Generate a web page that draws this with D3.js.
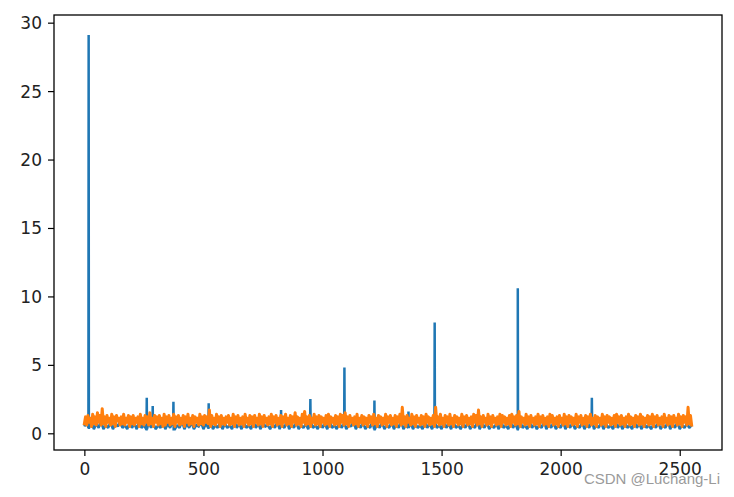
<!DOCTYPE html>
<html>
<head>
<meta charset="utf-8">
<script src="https://cdn.jsdelivr.net/npm/d3@7/dist/d3.min.js"></script>
<style>
  html, body { margin: 0; padding: 0; background: #fff; }
  svg { display: block; }
</style>
</head>
<body>
<svg id="chart" width="734" height="497"></svg>
<script>
// ---------------- data ----------------
const xTicks = [0, 500, 1000, 1500, 2000, 2500];
const yTicks = [0, 5, 10, 15, 20, 25, 30];

// orange series, one value every 5 samples (index 0..2550)
const orangeStep = 5;
const orangeValues = [
0.7,1.2,0.6,1.3,0.8,1.1,0.5,1.4,0.7,1.2,0.6,1.5,0.8,1.3,0.6,1.8,0.7,1.2,0.5,1.3,
0.8,1.1,0.6,1.4,0.7,1.2,0.5,1.3,0.9,1.1,0.6,1.2,0.7,1.4,0.6,1.1,0.8,1.3,0.5,1.2,
0.7,1.3,0.6,1.1,0.8,1.2,0.5,1.4,0.7,1.1,0.6,1.3,0.8,1.2,0.6,1.5,0.7,1.1,0.5,1.3,
0.8,1.2,0.6,1.3,0.7,1.1,0.5,1.4,0.6,1.2,0.8,1.3,0.6,1.1,0.7,1.4,0.5,1.2,0.8,1.3,
0.6,1.1,0.7,1.3,0.5,1.2,0.8,1.4,0.6,1.1,0.7,1.3,0.5,1.2,0.8,1.1,0.6,1.4,0.7,1.2,
0.6,1.3,0.8,1.2,0.7,1.7,0.5,1.3,0.7,1.1,0.6,1.4,0.8,1.2,0.5,1.3,0.7,1.1,0.6,1.2,
0.8,1.3,0.6,1.1,0.7,1.4,0.5,1.2,0.8,1.3,0.6,1.1,0.7,1.2,0.5,1.4,0.8,1.1,0.6,1.3,
0.7,1.2,0.5,1.3,0.8,1.1,0.6,1.4,0.7,1.2,0.5,1.3,0.8,1.1,0.6,1.2,0.7,1.4,0.5,1.2,
0.8,1.3,0.6,1.1,0.7,1.3,0.5,1.2,0.8,1.4,0.6,1.1,0.7,1.3,0.5,1.2,0.8,1.5,0.6,1.2,
0.7,1.1,0.5,1.4,0.8,1.6,0.6,1.2,0.7,1.3,0.5,1.1,0.8,1.4,0.6,1.2,0.7,1.3,0.5,1.2,
0.8,1.1,0.6,1.3,0.7,1.4,0.5,1.2,0.8,1.1,0.6,1.3,0.7,1.2,0.5,1.4,0.8,1.3,0.6,1.5,
0.7,1.2,0.5,1.3,0.8,1.1,0.6,1.2,0.7,1.4,0.5,1.1,0.8,1.3,0.6,1.2,0.7,1.1,0.5,1.3,
0.8,1.2,0.6,1.4,0.7,1.1,0.5,1.3,0.8,1.2,0.6,1.1,0.7,1.4,0.5,1.2,0.8,1.3,0.6,1.1,
0.7,1.3,0.5,1.2,0.8,1.4,0.6,1.9,0.7,1.2,0.5,1.3,0.8,1.1,0.6,1.4,0.7,1.2,0.5,1.3,
0.8,1.1,0.6,1.3,0.7,1.2,0.5,1.4,0.8,1.2,0.6,1.1,0.7,1.3,0.5,1.9,0.8,1.2,0.6,1.4,
0.7,1.1,0.5,1.3,0.8,1.2,0.6,1.4,0.7,1.1,0.5,1.3,0.8,1.2,0.6,1.1,0.7,1.4,0.5,1.2,
0.8,1.3,0.6,1.1,0.7,1.2,0.5,1.4,0.8,1.3,0.6,1.7,0.7,1.2,0.5,1.3,0.8,1.1,0.6,1.4,
0.7,1.2,0.5,1.3,0.8,1.1,0.6,1.2,0.7,1.4,0.5,1.3,0.8,1.2,0.6,1.1,0.7,1.3,0.5,1.4,
0.8,1.2,0.6,1.3,0.7,1.6,0.5,1.2,0.8,1.1,0.6,1.4,0.7,1.2,0.5,1.3,0.8,1.1,0.6,1.2,
0.7,1.4,0.5,1.2,0.8,1.3,0.6,1.1,0.7,1.2,0.5,1.4,0.8,1.3,0.6,1.1,0.7,1.2,0.5,1.3,
0.8,1.1,0.6,1.4,0.7,1.2,0.5,1.3,0.8,1.2,0.6,1.1,0.7,1.4,0.5,1.2,0.8,1.3,0.6,1.1,
0.7,1.3,0.5,1.2,0.8,1.4,0.6,1.1,0.7,1.3,0.5,1.2,0.8,1.1,0.6,1.4,0.7,1.2,0.5,1.3,
0.8,1.2,0.6,1.1,0.7,1.3,0.5,1.4,0.8,1.2,0.6,1.3,0.7,1.1,0.5,1.2,0.8,1.4,0.6,1.2,
0.7,1.1,0.5,1.3,0.8,1.2,0.6,1.4,0.7,1.2,0.5,1.1,0.8,1.3,0.6,1.2,0.7,1.4,0.5,1.2,
0.8,1.3,0.6,1.1,0.7,1.2,0.5,1.4,0.8,1.1,0.6,1.3,0.7,1.2,0.5,1.3,0.8,1.1,0.6,1.4,
0.7,1.2,0.5,1.3,0.8,1.2,0.6,1.9,0.7,1.3,0.6
];

// blue series baseline, one value every 10 samples (index 0..2550)
const blueStep = 10;
const blueBase = [
0.5,0.9,0.4,0.8,0.3,0.7,0.4,0.9,0.3,0.6,0.4,0.8,0.3,0.7,0.5,0.9,
0.4,0.6,0.3,0.8,0.4,0.7,0.3,0.9,0.4,0.6,0.3,0.8,0.4,0.7,0.3,0.6,
0.4,0.9,0.3,0.7,0.4,0.8,0.3,0.6,0.4,0.9,0.3,0.7,0.4,0.8,0.3,0.6,
0.5,0.8,0.3,0.7,0.4,0.9,0.3,0.6,0.4,0.8,0.3,0.7,0.4,0.6,0.3,0.9,
0.4,0.7,0.3,0.8,0.4,0.6,0.3,0.9,0.4,0.7,0.3,0.8,0.5,0.6,0.3,0.7,
0.4,0.8,0.3,0.6,0.4,0.9,0.3,0.7,0.4,0.8,0.3,0.6,0.4,0.7,0.3,0.9,
0.4,0.6,0.3,0.8,0.4,0.7,0.3,0.9,0.4,0.6,0.3,0.8,0.4,0.7,0.3,0.6,
0.5,0.9,0.3,0.7,0.4,0.8,0.3,0.6,0.4,0.9,0.3,0.7,0.4,0.8,0.3,0.6,
0.4,0.8,0.3,0.7,0.4,0.9,0.3,0.6,0.4,0.8,0.3,0.7,0.4,0.6,0.3,0.9,
0.4,0.7,0.3,0.8,0.4,0.6,0.3,0.9,0.4,0.7,0.3,0.8,0.4,0.6,0.3,0.7,
0.4,0.8,0.3,0.6,0.4,0.9,0.3,0.7,0.4,0.8,0.3,0.6,0.4,0.7,0.3,0.9,
0.4,0.6,0.3,0.8,0.4,0.7,0.3,0.9,0.4,0.6,0.3,0.8,0.4,0.7,0.3,0.6,
0.4,0.9,0.3,0.7,0.4,0.8,0.3,0.6,0.4,0.9,0.3,0.7,0.4,0.8,0.3,0.6,
0.4,0.8,0.3,0.7,0.4,0.9,0.3,0.6,0.4,0.8,0.3,0.7,0.4,0.6,0.3,0.9,
0.4,0.7,0.3,0.8,0.4,0.6,0.3,0.9,0.4,0.7,0.3,0.8,0.4,0.6,0.3,0.7,
0.4,0.8,0.3,0.6,0.4,0.9,0.3,0.7,0.4,0.8,0.3,0.6,0.4,0.7,0.4,0.6
];

// blue spikes: sample index and value
const spikeIndex = [18, 262, 287, 374, 522, 826, 949, 1092, 1218, 1361, 1471, 1820, 2131];
const spikeValue = [29.1, 2.6, 2.0, 2.3, 2.2, 1.7, 2.5, 4.8, 2.4, 1.6, 8.1, 10.6, 2.6];

// ---------------- build series ----------------
const orange = orangeValues.map((v, i) => ({x: i * orangeStep, y: v}));
const baseAt = ix => blueBase[Math.min(blueBase.length - 1, Math.round(ix / blueStep))];
const spikePts = [];
spikeIndex.forEach((ix, i) => {
  spikePts.push({x: ix - 1, y: baseAt(ix - 1)});
  spikePts.push({x: ix, y: spikeValue[i]});
  spikePts.push({x: ix + 1, y: baseAt(ix + 1)});
});
const blue = blueBase.map((v, i) => ({x: i * blueStep, y: v}))
  .concat(spikePts)
  .sort((a, b) => a.x - b.x);

// ---------------- layout ----------------
const svg = d3.select("#chart");
const L = 54, T = 15, R = 722, B = 450;

const x = d3.scaleLinear().domain([-127.5, 2677.5]).range([L, R]);
const y = d3.scaleLinear().domain([-1.22, 30.56]).range([B, T]);

const line = d3.line().x(d => x(d.x)).y(d => y(d.y));

const plot = svg.append("g");
plot.append("clipPath").attr("id", "clip")
  .append("rect").attr("x", L).attr("y", T).attr("width", R - L).attr("height", B - T);

const lines = plot.append("g").attr("clip-path", "url(#clip)");
lines.append("path").datum(blue)
  .attr("d", line).attr("fill", "none")
  .attr("stroke", "#1f77b4").attr("stroke-width", 2.5)
  .attr("stroke-linejoin", "miter").attr("stroke-miterlimit", 1.5).attr("stroke-linecap", "butt");
lines.append("path").datum(orange)
  .attr("d", line).attr("fill", "none")
  .attr("stroke", "#ff7f0e").attr("stroke-width", 3)
  .attr("stroke-linejoin", "round").attr("stroke-linecap", "square");

// axes
const font = "'DejaVu Sans', sans-serif";
const xAxis = d3.axisBottom(x).tickValues(xTicks).tickSize(6).tickPadding(6).tickFormat(d3.format("d"));
const yAxis = d3.axisLeft(y).tickValues(yTicks).tickSize(6).tickPadding(6).tickFormat(d3.format("d"));

const gx = svg.append("g").attr("transform", `translate(0,${B})`).call(xAxis);
const gy = svg.append("g").attr("transform", `translate(${L},0)`).call(yAxis);
[gx, gy].forEach(g => {
  g.select(".domain").remove();
  g.selectAll(".tick line").attr("stroke", "#000").attr("stroke-width", 1.2);
  g.selectAll(".tick text").attr("fill", "#222").style("font-family", font).style("font-size", "17px");
});
gx.selectAll(".tick text").attr("dy", "0.78em");
gy.selectAll(".tick text").attr("dy", "0.35em");

// frame
svg.append("rect").attr("x", L).attr("y", T).attr("width", R - L).attr("height", B - T)
  .attr("fill", "none").attr("stroke", "#000").attr("stroke-width", 1.3);

// watermark (overlaps the last tick label in the reference as well)
svg.append("text").attr("x", 720).attr("y", 484).attr("text-anchor", "end")
  .style("font-family", "'Liberation Sans', Arial, sans-serif").style("font-size", "15px")
  .attr("fill", "#9a9a9a").attr("stroke", "#ffffff").attr("stroke-width", 0.4).attr("paint-order", "stroke")
  .text("CSDN @Luchang-Li");
</script>
</body>
</html>
